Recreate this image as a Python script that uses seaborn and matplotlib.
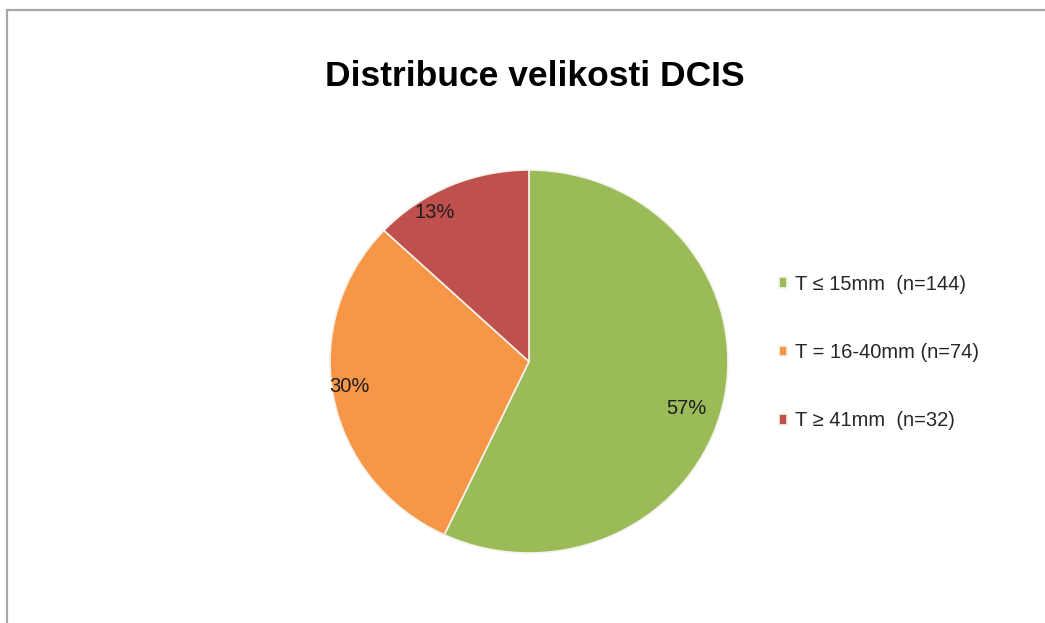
import matplotlib
matplotlib.use("Agg")
import matplotlib.pyplot as plt
from matplotlib.patches import Rectangle
import numpy as np
import seaborn as sns

# Data
categories = ["T \u2264 15mm  (n=144)", "T = 16-40mm (n=74)", "T \u2265 41mm  (n=32)"]
shares = [57, 30, 13]
title = "Distribuce velikosti DCIS"

sns.set_theme(style="white")
plt.rcParams["font.family"] = ["Liberation Sans", "DejaVu Sans"]

palette = sns.color_palette(["#9BBB59", "#F79646", "#C0504D"])

fig = plt.figure(figsize=(10.45, 6.23), dpi=100)
fig.patch.set_facecolor("white")

# Thin grey frame along the top and left edges
fig.add_artist(Rectangle((7 / 1045, -0.05), 1.2, (623 - 10) / 623 + 0.05,
                         transform=fig.transFigure, fill=False,
                         edgecolor="#A6A6A6", linewidth=1.6))

ax = fig.add_axes([330 / 1045, (623 - 553) / 623, 398 / 1045, 383 / 623])
wedges, texts, autotexts = ax.pie(
    shares, colors=palette, startangle=90, counterclock=False,
    autopct=lambda p: f"{p:.0f}%", pctdistance=0.9,
    wedgeprops=dict(edgecolor="#F4F4EC", linewidth=1.2),
    textprops=dict(fontsize=14.5, color="#1E1E1E"),
)
ax.set_xlim(-1, 1)
ax.set_ylim(-1, 1)
ax.set_aspect("auto")

# Place each percentage label along its wedge
label_radius = [0.83, 0.91, 0.91]
label_shift = [4.5, 2.5, -8.0]  # degrees, clockwise
start = 0.0
total = sum(shares)
for txt, s, r, d in zip(autotexts, shares, label_radius, label_shift):
    mid = start + 360 * s / total / 2 + d
    a = np.deg2rad(mid)
    txt.set_position((r * np.sin(a), r * np.cos(a)))
    start += 360 * s / total

fig.text(0.512, 0.877, title, ha="center", va="center",
         fontsize=25.5, fontweight="bold", color="#000000")

leg = fig.legend(wedges, categories, loc="upper left",
                 bbox_to_anchor=(0.728, 0.588), frameon=False,
                 fontsize=14.5, handlelength=0.42, handleheight=0.42,
                 handletextpad=0.4, labelspacing=2.45, labelcolor="#262626")

fig.savefig("out.png", dpi=100, facecolor="white")
